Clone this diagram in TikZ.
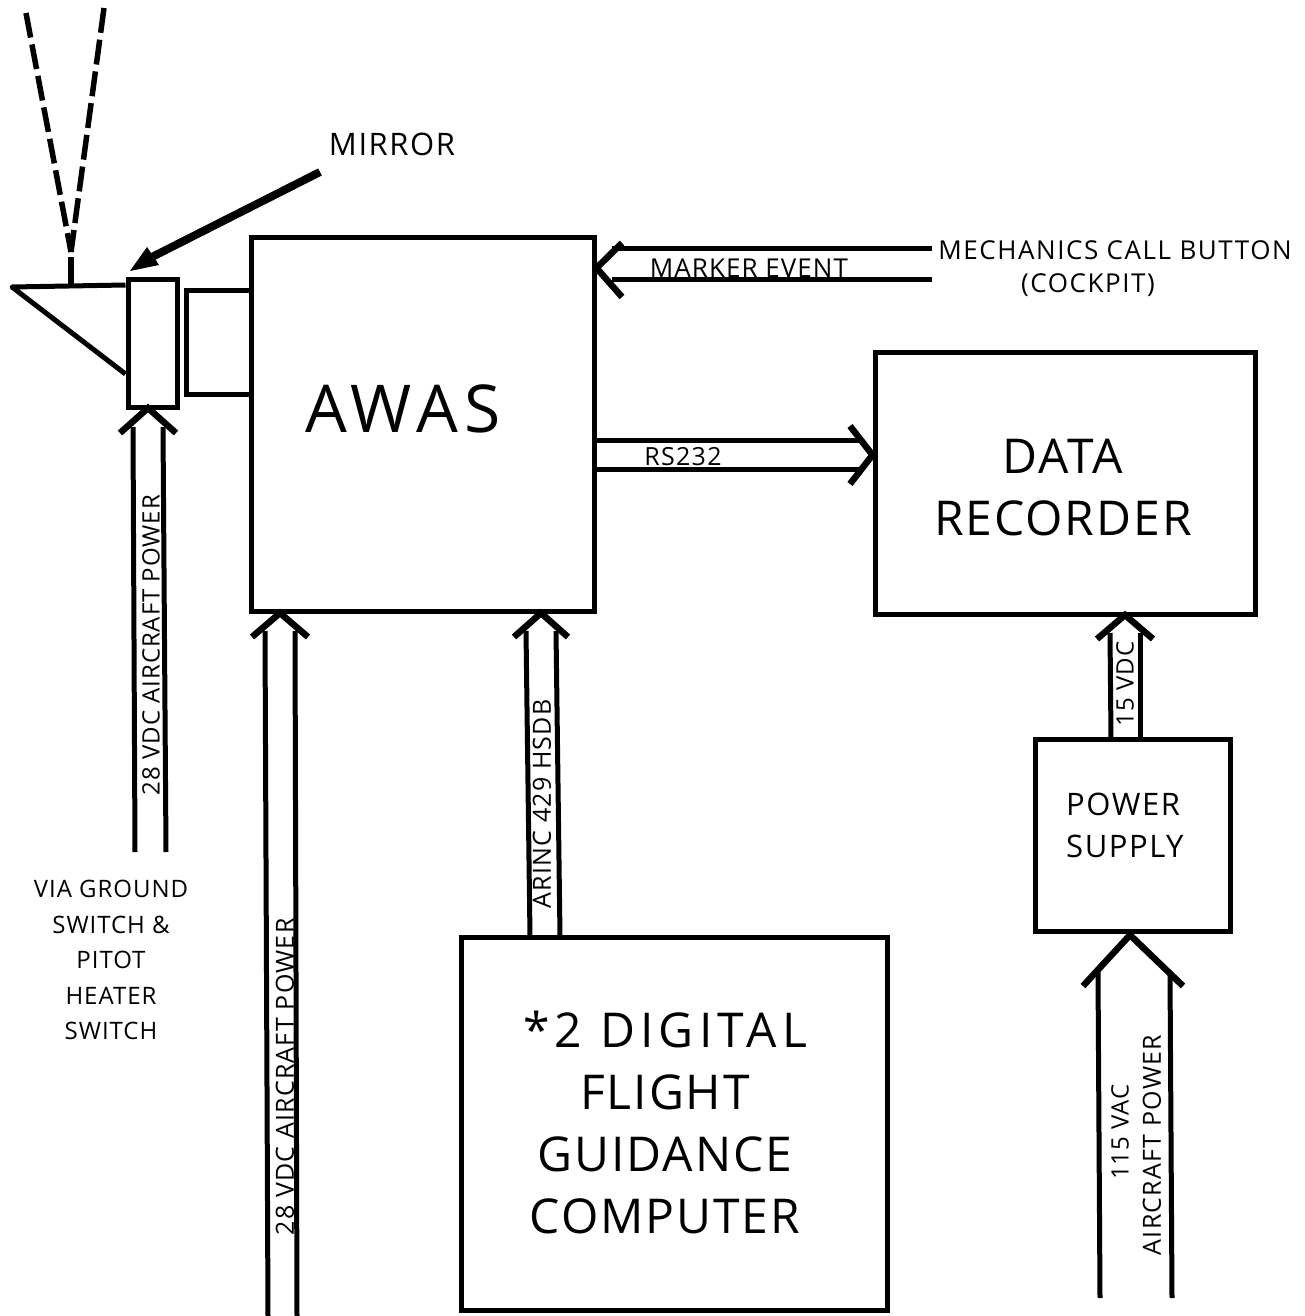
\documentclass[tikz,border=0pt]{standalone}
\usepackage{fontspec}
\setmainfont{Open Sans}
\usetikzlibrary{calc}
\newcommand{\fnt}[3]{\fontsize{#1}{#2}\selectfont\addfontfeature{LetterSpace=#3}}
\tikzset{
  x=1pt,y=-1pt,
  sline/.style={line width=5pt},
  chev/.style={line width=6.5pt,line join=miter},
  ttxt/.style={inner sep=0pt,align=center},
  big/.style={ttxt,font=\fnt{66}{66}{10}},
  mid/.style={ttxt,font=\fnt{48}{62}{4}},
  psl/.style={ttxt,align=left,anchor=west,font=\fnt{31}{42}{5}},
  small/.style={ttxt,font=\fnt{26}{26}{6}},
  via/.style={ttxt,font=\fnt{24}{35.5}{4}},
  vlab/.style={ttxt,rotate=90,font=\fnt{24}{24}{4}},
  vlabb/.style={ttxt,rotate=90,font=\fnt{25}{25}{5}},
  hlab/.style={ttxt,font=\fnt{26}{26}{4}},
  beam/.style={line width=5.5pt,dash pattern=on 25pt off 7pt},
}
\newcommand{\rb}[5]{\node[draw,line width=5pt,minimum width=#3-#1,minimum height=#4-#2,inner sep=0pt] (#5) at ({(#1+#3)/2},{(#2+#4)/2}) {};}
\newcommand{\varrow}[6]{%
  \draw[sline] ($(#1)+(-#2,#4-6)$) -- (#5);
  \draw[sline] ($(#1)+(#2,#4-6)$) -- (#6);
  \draw[chev] ($(#1)+(-#3,#4)$) -- (#1) -- ($(#1)+(#3,#4)$);
}
\begin{document}
\begin{tikzpicture}
\useasboundingbox (0,0) rectangle (1304,1316);
% boxes
\rb{251}{237}{594}{611}{awas}
\rb{875}{352}{1255}{614}{rec}
\rb{461}{937}{887}{1310}{dfgc}
\rb{1035}{739}{1230}{931}{psu}
\rb{128}{279}{177}{407}{mir}
% box labels
\node[big] (tawas) at (403,409) {AWAS};
\node[mid] (trec) at (1063,488) {DATA\\RECORDER};
\node[mid] (tdfgc) at (665,1122) {{\addfontfeature{LetterSpace=11}*2 DIGITAL}\\FLIGHT\\GUIDANCE\\COMPUTER};
\node[psl] (tpsu) at (1066,825) {POWER\\SUPPLY};
\node[ttxt,font=\fnt{31}{31}{5}] (tm) at (392,144) {MIRROR};
\node[small] (tc1) at (1115,250) {MECHANICS CALL BUTTON};
\node[small] (tc2) at (1088,285) {(COCKPIT)};
\node[via] (tv) at (111,960) {VIA GROUND\\SWITCH \&\\PITOT\\HEATER\\SWITCH};
% prism
\coordinate (pa) at (12,287);
\coordinate (pc) at (mir.west |- 0,374);
\draw[sline,line join=round] (mir.west |- 0,285) -- (pa) -- (pc);
% beam
\coordinate (ba) at (71,285);
\coordinate (bt) at (71,257);
\coordinate (bl) at (26,13);
\coordinate (br) at (104,8);
\coordinate (bv) at (71,252);
\draw[line width=6.5pt] (ba) -- (bt);
\draw[beam] (bl) -- (bv);
\draw[beam] (br) -- (bv);
% mirror arrow
\coordinate (ma) at (320,172);
\coordinate (mb) at (150,258);
\draw[line width=8pt] (ma) -- (mb);
\fill (130,271) -- (147,247) -- (159,265) -- cycle;
% camera link
\draw[sline] (awas.west |- 0,290) -- (186,290) -- (186,394) -- (awas.west |- 0,394);
% vertical double arrows
\coordinate (t1) at (148,408);
\coordinate (e1a) at (135,852);
\coordinate (e1b) at (166,852);
\varrow{t1}{15}{28}{25}{e1a}{e1b}
\coordinate (t2) at (280,613);
\coordinate (e2a) at (268,1316);
\coordinate (e2b) at (297,1316);
\varrow{t2}{15}{28}{24}{e2a}{e2b}
\coordinate (t3) at (541,613);
\coordinate (e3a) at (530,937);
\coordinate (e3b) at (560,937);
\varrow{t3}{15}{27}{24}{e3a}{e3b}
\coordinate (t4) at (1125,615);
\coordinate (e4a) at (1111,739);
\coordinate (e4b) at (1140,739);
\varrow{t4}{15}{28}{24}{e4a}{e4b}
\coordinate (t5) at (1130,935);
\coordinate (e5a) at (1100,1298);
\coordinate (e5b) at (1172,1298);
\draw[sline] (1098,972) -- (e5a);
\draw[sline] (1170,972) -- (e5b);
\draw[chev] (1083,986) -- (t5) -- (1183,986);
% horizontal double arrows
\coordinate (m1) at (932,248);
\coordinate (m2) at (932,279);
\draw[sline] (m1) -- (612,248);
\draw[sline] (m2) -- (612,279);
\draw[chev] (622,243) -- (awas.east |- 0,268) -- (622,297);
\coordinate (r1) at (awas.east |- 0,440);
\coordinate (r2) at (awas.east |- 0,469);
\draw[sline] (r1) -- (862,440);
\draw[sline] (r2) -- (862,469);
\draw[chev] (850,426) -- (rec.west |- 0,455) -- (850,484);
% connector labels
\node[vlab] (l1) at (151,645) {28 VDC AIRCRAFT POWER};
\node[vlabb] (l2) at (285,1077) {28 VDC AIRCRAFT POWER};
\node[vlabb] (l3) at (542,804) {ARINC 429 HSDB};
\node[vlab] (l4) at (1125,684) {15 VDC};
\node[vlab] (l5a) at (1120,1132) {115 VAC};
\node[vlabb] (l5b) at (1152,1145) {AIRCRAFT POWER};
\node[hlab] (l6) at (749,268) {MARKER EVENT};
\node[hlab,font=\fnt{25}{25}{5}] (l7) at (683,457) {RS232};
\end{tikzpicture}
\end{document}
